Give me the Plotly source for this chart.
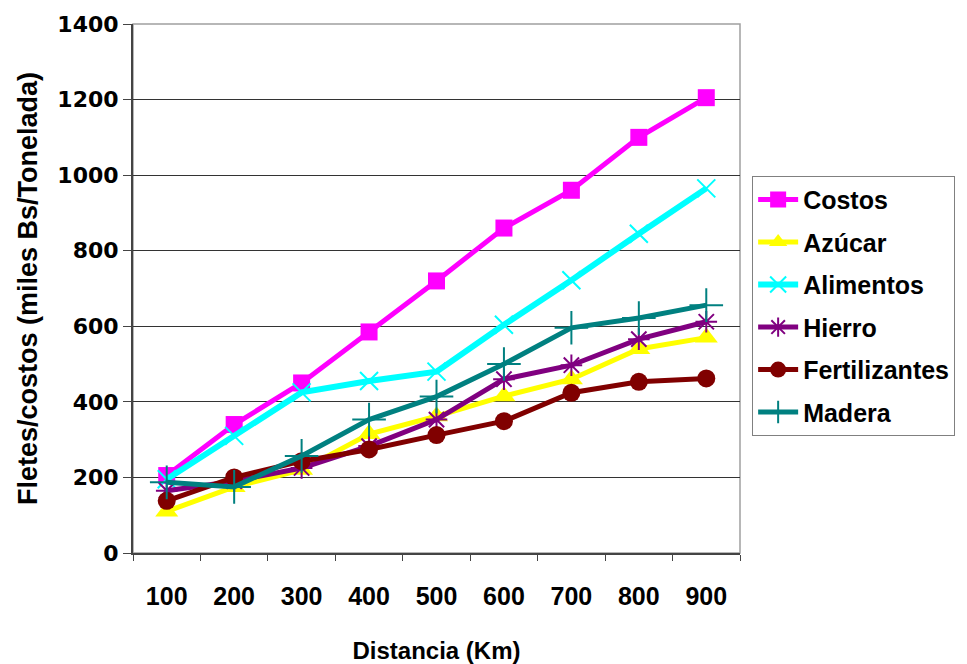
import plotly.graph_objects as go

distancias = ["100", "200", "300", "400", "500", "600", "700", "800", "900"]
costos = [205, 340, 450, 585, 720, 860, 960, 1100, 1205]
azucar = [110, 175, 220, 315, 362, 415, 460, 540, 570]
alimentos = [195, 310, 425, 455, 480, 604, 722, 845, 965]
hierro = [165, 190, 225, 283, 353, 460, 497, 566, 612]
fertilizantes = [138, 200, 243, 274, 312, 349, 424, 453, 462]
madera = [187, 175, 257, 353, 414, 500, 596, 622, 656]
y_ticks = [0, 200, 400, 600, 800, 1000, 1200, 1400]

series = [
    ("Costos", costos, "#FF00FF", "square", 17, None, 5),
    ("Azúcar", azucar, "#FFFF00", "triangle-up", 20, None, 5),
    ("Alimentos", alimentos, "#00FFFF", "x-thin-open", 18, 2, 6),
    ("Hierro", hierro, "#800080", "asterisk-open", 18, 2, 5),
    ("Fertilizantes", fertilizantes, "#800000", "circle", 18, None, 5),
    ("Madera", madera, "#008080", "cross-thin-open", 24, 2, 5),
]

FAM = "Liberation Sans, Arial"

fig = go.Figure()
for name, vals, color, sym, size, lw, width in series:
    marker = dict(symbol=sym, size=size, color=color)
    if lw:
        marker["line"] = dict(color=color, width=lw)
    fig.add_trace(go.Scatter(
        x=distancias, y=vals, name=name, legendgroup=name, mode="lines+markers",
        line=dict(color=color, width=width), marker=marker,
    ))

fig.update_layout(
    width=967, height=664,
    margin=dict(l=133, r=227, t=20, b=111),
    paper_bgcolor="white", plot_bgcolor="white",
    font=dict(family=FAM, size=20, color="black"),
    showlegend=True,
    legend=dict(
        x=1.02, y=0.713, xanchor="left", yanchor="top",
        bordercolor="#808080", borderwidth=1,
        font=dict(family=FAM, size=25, color="black", weight="bold"),
        tracegroupgap=7, itemwidth=40,
    ),
    shapes=[dict(type="rect", xref="paper", yref="paper", x0=0, y0=0, x1=1, y1=1,
                 line=dict(color="#a0a0a0", width=1.5), layer="below")],
)
fig.update_xaxes(
    type="category", range=[-0.5, len(distancias) - 0.5], automargin=False,
    tickson="boundaries", ticks="outside", ticklen=6,
    tickcolor="#444", showline=True, linecolor="#444", linewidth=2,
    showgrid=False,
    tickfont=dict(family=FAM, size=25, color="black", weight="bold"),
    title=dict(text="Distancia (Km)", standoff=33,
               font=dict(family=FAM, size=24, color="black", weight="bold")),
    ticklabelstandoff=20,
)
fig.update_yaxes(
    range=[0, 1400], tickvals=y_ticks, ticks="outside", ticklen=8,
    tickcolor="#444", showline=True, linecolor="#444", linewidth=2,
    showgrid=True, gridcolor="#333", gridwidth=1, zeroline=False,
    tickfont=dict(family="DejaVu Sans", size=22, color="black", weight="bold"),
    title=dict(text="Fletes/costos (miles Bs/Tonelada)", standoff=12,
               font=dict(family=FAM, size=27, color="black", weight="bold")),
)

fig.write_html("out.html", config={"displayModeBar": False},
               post_script="document.body.style.margin='0px';")
